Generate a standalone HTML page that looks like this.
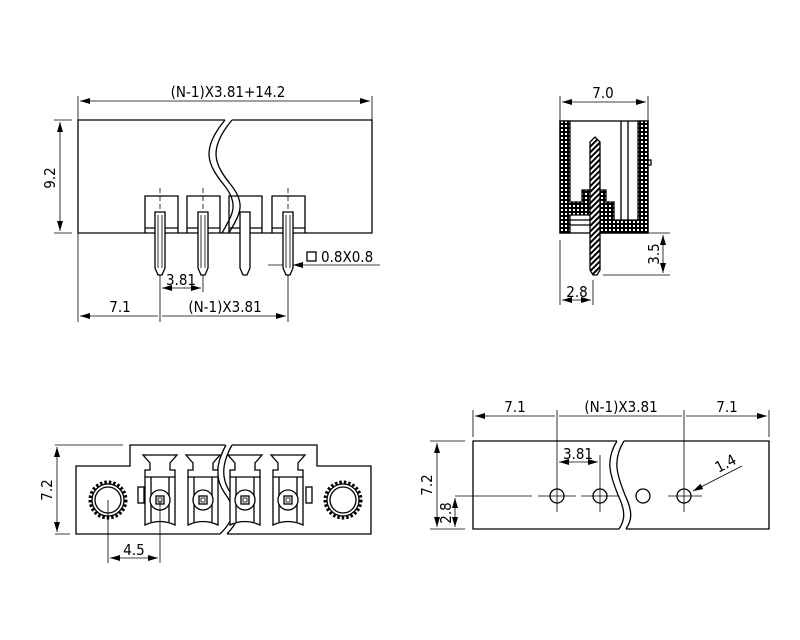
<!DOCTYPE html>
<html><head><meta charset="utf-8"><style>
html,body{margin:0;padding:0;background:#fff}
svg{display:block}
text{font-family:"DejaVu Sans Condensed","DejaVu Sans","Liberation Sans",sans-serif;font-size:15px;fill:#000}
</style></head><body>
<svg width="800" height="640" viewBox="0 0 800 640" xmlns="http://www.w3.org/2000/svg">
<defs>
<marker id="a" viewBox="0 0 10 6" refX="10" refY="3" markerWidth="10" markerHeight="6" orient="auto-start-reverse" markerUnits="userSpaceOnUse"><path d="M0,0L10,3L0,6z" fill="#000"/></marker>
<pattern id="dots" width="4" height="4" patternUnits="userSpaceOnUse"><rect width="4" height="4" fill="#000"/><rect x="1" y="1" width="2" height="2" fill="#fff"/></pattern>
<pattern id="hatch" width="4" height="4" patternUnits="userSpaceOnUse" patternTransform="rotate(45)"><rect width="4" height="4" fill="#fff"/><rect width="2" height="4" fill="#000"/></pattern>
</defs>
<g fill="none" stroke="#000" stroke-width="1.3">
<!-- TOP LEFT -->
<path d="M225,120H78V233H372V120H232" />
<path d="M225,120C200,150 208,165 224,185C240,205 232,215 222,233" />
<path d="M232,120C207,150 215,165 231,185C247,205 239,215 229,233" />
<g>
<path d="M145,233V196H178V233 M187,233V196H220V233 M229,233V196H262V233 M272,233V196H305V233"/>
<path d="M145,228H178 M187,228H220 M229,228H262 M272,228H305"/>
</g>
<g fill="#fff">
<path d="M155,212H165V268L162,275H158L155,268Z"/>
<path d="M198,212H208V268L205,275H201L198,268Z"/>
<path d="M240,212H250V268L247,275H243L240,268Z"/>
<path d="M283,212H293V268L290,275H286L283,268Z"/>
</g>
<path d="M158,215V268 M162,215V268 M201,215V268 M205,215V268 M286,215V268 M290,215V268" stroke-width="0.8"/>
<path d="M160,188V212 M203,188V212 M288,188V212" stroke-dasharray="5,3" stroke-width="0.8"/>
<!-- dims -->
<path d="M78,96V128 M372,96V128" stroke-width="0.8"/>
<path d="M80,101H370" marker-start="url(#a)" marker-end="url(#a)" stroke-width="0.8"/>
<path d="M54,120H72 M54,233H72" stroke-width="0.8"/>
<path d="M60,122V231" marker-start="url(#a)" marker-end="url(#a)" stroke-width="0.8"/>
<path d="M78,233V322 M160,275V322 M288,275V322 M203,275V292" stroke-width="0.8"/>
<path d="M162,288H201" marker-start="url(#a)" marker-end="url(#a)" stroke-width="0.8"/>
<path d="M80,316H158 M162,316H286" marker-start="url(#a)" marker-end="url(#a)" stroke-width="0.8"/>
<path d="M268,265H283 M380,265H293" marker-end="url(#a)" stroke-width="0.8"/>
<rect x="307" y="252" width="9" height="9"/>
<!-- TOP RIGHT -->
<rect x="560" y="121" width="88" height="112"/>
<path d="M560,96V121 M648,96V121" stroke-width="0.8"/>
<path d="M562,102H646" marker-start="url(#a)" marker-end="url(#a)" stroke-width="0.8"/>
<path d="M621,121V220 M628,121V220"/>
<path d="M563,205V233 M563,220H600 M563,225H600"/>
<path d="M560,121H570V202H582V190H606V202H614V220H638V121H648V233H600V215H570V233H560Z" fill="url(#dots)"/>
<path d="M648,160h3v5h-3"/>
<path d="M590,142L595,137L600,142V270L597,275H593L590,270Z" fill="url(#hatch)"/>
<path d="M603,275H670 M648,233H670" stroke-width="0.8"/>
<path d="M663,235V273" marker-start="url(#a)" marker-end="url(#a)" stroke-width="0.8"/>
<path d="M560,240V305 M593,280V305" stroke-width="0.8"/>
<path d="M562,300H591" marker-start="url(#a)" marker-end="url(#a)" stroke-width="0.8"/>
<!-- BOTTOM LEFT -->
<path d="M225,445H130V466H76V534H220 M227,534H371V466H317V445H232"/>
<path d="M226,445C215,465 215,480 226,495C238,512 232,522 220,534" />
<path d="M232,445C221,465 221,480 232,495C244,512 238,522 227,534" />
<path d="M55,445H123 M55,534H70" stroke-width="0.8"/>
<path d="M57,447V532" marker-start="url(#a)" marker-end="url(#a)" stroke-width="0.8"/>
<g id="t">
<path d="M143,455H177L170,463V470H175V525Q160,518 145,525V470H150V463Z" fill="#fff"/>
<path d="M151,477V522 M169,477V522 M145,477H175"/>
<circle cx="160" cy="500" r="10" fill="#fff"/>
<rect x="156" y="496" width="8" height="8"/>
<rect x="158" y="498" width="4" height="4" stroke-width="0.8"/>
</g>
<use href="#t" x="43"/><use href="#t" x="85"/><use href="#t" x="128"/>
<rect x="138" y="487" width="6" height="16"/>
<rect x="306" y="487" width="6" height="16"/>
<g id="s">
<circle cx="108" cy="500" r="18" stroke-dasharray="2.5,2" stroke-width="3"/>
<circle cx="108" cy="500" r="16"/>
<circle cx="108" cy="500" r="13"/>
</g>
<use href="#s" x="235"/>
<path d="M108,500V563 M160,500V563" stroke-width="0.8"/>
<path d="M110,558H158" marker-start="url(#a)" marker-end="url(#a)" stroke-width="0.8"/>
<!-- BOTTOM RIGHT -->
<path d="M617,441H473V529H619 M626,529H769V441H624"/>
<path d="M617,441C605,460 610,475 618,495C626,512 625,520 619,529"/>
<path d="M624,441C612,460 617,475 625,495C633,512 632,520 626,529"/>
<path d="M473,410V437 M769,410V437 M557,410V480 M684,410V480 M600,455V480" stroke-width="0.8"/>
<path d="M475,416H555 M559,416H682 M686,416H767" marker-start="url(#a)" marker-end="url(#a)" stroke-width="0.8"/>
<path d="M559,462H598" marker-start="url(#a)" marker-end="url(#a)" stroke-width="0.8"/>
<path d="M430,441H465 M430,529H465" stroke-width="0.8"/>
<path d="M437,443V527" marker-start="url(#a)" marker-end="url(#a)" stroke-width="0.8"/>
<path d="M455,496H532" stroke-width="0.8"/>
<path d="M455,498V527" marker-start="url(#a)" marker-end="url(#a)" stroke-width="0.8"/>
<circle cx="557" cy="496" r="7"/><circle cx="600" cy="496" r="7"/>
<circle cx="643" cy="496" r="7"/><circle cx="684" cy="496" r="7"/>
<path d="M538,496H576 M557,480V512 M581,496H619 M600,480V512 M668,496H702 M684,480V512" stroke-width="0.8"/>
<path d="M742,466L693,491" marker-end="url(#a)" stroke-width="0.8"/>
</g>
<text x="228" y="97" text-anchor="middle">(N-1)X3.81+14.2</text>
<text x="0" y="0" transform="translate(55,178) rotate(-90)" text-anchor="middle">9.2</text>
<text x="181" y="285" text-anchor="middle">3.81</text>
<text x="120" y="312" text-anchor="middle">7.1</text>
<text x="225" y="312" text-anchor="middle">(N-1)X3.81</text>
<text x="321" y="262">0.8X0.8</text>
<text x="603" y="98" text-anchor="middle">7.0</text>
<text x="0" y="0" transform="translate(659,254) rotate(-90)" text-anchor="middle">3.5</text>
<text x="577" y="297" text-anchor="middle">2.8</text>
<text x="0" y="0" transform="translate(52,490) rotate(-90)" text-anchor="middle">7.2</text>
<text x="134" y="555" text-anchor="middle">4.5</text>
<text x="515" y="412" text-anchor="middle">7.1</text>
<text x="621" y="412" text-anchor="middle">(N-1)X3.81</text>
<text x="727" y="412" text-anchor="middle">7.1</text>
<text x="578" y="459" text-anchor="middle">3.81</text>
<text x="0" y="0" transform="translate(432,485) rotate(-90)" text-anchor="middle">7.2</text>
<text x="0" y="0" transform="translate(451,513) rotate(-90)" text-anchor="middle">2.8</text>
<text x="0" y="0" transform="translate(728,468) rotate(-28)" text-anchor="middle">1.4</text>
</svg>
</body></html>
